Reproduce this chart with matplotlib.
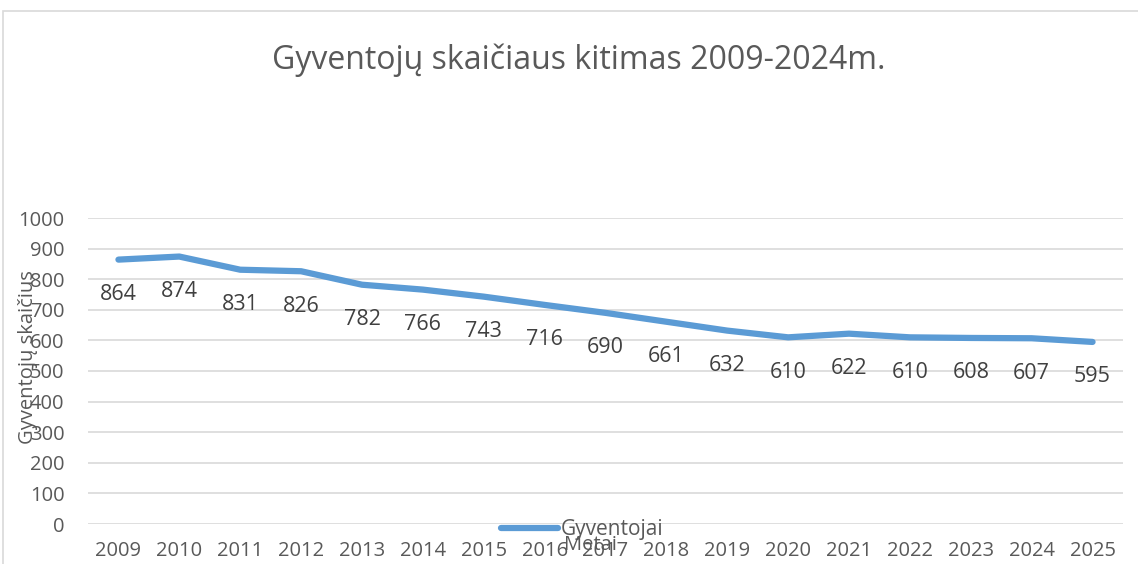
import matplotlib
matplotlib.use("Agg")
import matplotlib.pyplot as plt
from matplotlib.patches import Rectangle

years = ["2009", "2010", "2011", "2012", "2013", "2014", "2015", "2016", "2017",
         "2018", "2019", "2020", "2021", "2022", "2023", "2024", "2025"]
residents = [864, 874, 831, 826, 782, 766, 743, 716, 690, 661, 632, 610, 622, 610, 608, 607, 595]

W, H = 1138, 564
txt = "#595959"
plt.rcParams['font.family'] = ['Open Sans', 'DejaVu Sans']

fig = plt.figure(figsize=(W / 100, H / 100), dpi=100)

# chart frame
fig.patches.append(Rectangle((3 / W, -0.1), 1.2, (H - 11) / H + 0.1, transform=fig.transFigure,
                             fill=False, edgecolor="#d9d9d9", linewidth=1.2))

ax = fig.add_axes([88 / W, (H - 524) / H, (1123 - 88) / W, (524 - 218) / H])
x = list(range(len(years)))
ax.plot(x, residents, color="#5b9bd5", linewidth=4.5, solid_capstyle="round", label="Gyventojai")

for xi, v in zip(x, residents):
    ax.annotate(str(v), (xi, v), xytext=(0, -35), textcoords="offset pixels",
                ha="center", va="center", fontsize=15.5, color="#404040")

ax.set_xlim(-0.5, len(years) - 0.5)
ax.set_ylim(0, 1000)
ax.set_yticks(range(0, 1001, 100))
ax.set_xticks(x)
ax.set_xticklabels(years)
ax.grid(axis="y", color="#d9d9d9", linewidth=1.2)
ax.set_axisbelow(True)
for s in ax.spines.values():
    s.set_visible(False)
ax.tick_params(length=0, labelsize=14.5, colors=txt)
ax.tick_params(axis="y", pad=17)
ax.tick_params(axis="x", pad=12)

fig.text(579 / W, 1 - 60 / H, "Gyventojų skaičiaus kitimas 2009-2024m.", ha="center", va="center",
         fontsize=23, color=txt)
fig.text(28 / W, 1 - 357 / H, "Gyventojų skaičius", rotation=90, ha="center", va="center",
         fontsize=14.5, color=txt)
fig.text(590 / W, 1 - 545 / H, "Metai", ha="center", va="center", fontsize=14.5, color=txt)

ax.legend(loc="center", bbox_to_anchor=(582 / W, 1 - 530 / H), bbox_transform=fig.transFigure,
          frameon=False, fontsize=15, labelcolor=txt, handlelength=2.75, handletextpad=0.1,
          borderpad=0)

fig.savefig("out.png", dpi=100)
